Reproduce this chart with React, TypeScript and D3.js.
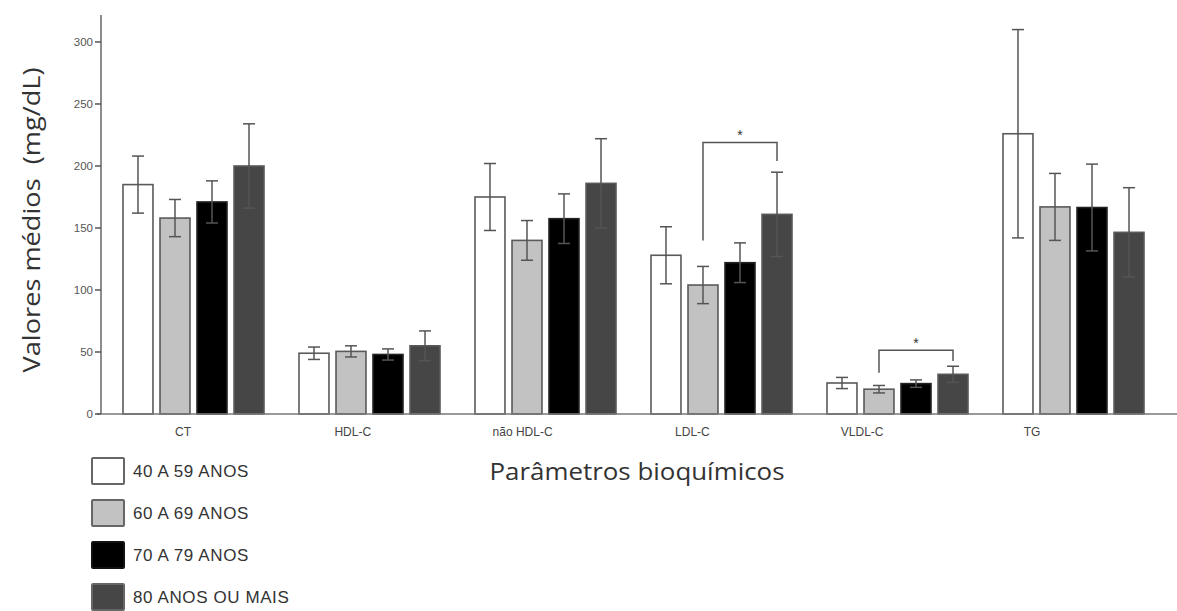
import * as d3 from 'd3';
import React from 'react';

// categorias e series
const categories = ['CT', 'HDL-C', 'não HDL-C', 'LDL-C', 'VLDL-C', 'TG'];
const seriesNames = ['40 A 59 ANOS', '60 A 69 ANOS', '70 A 79 ANOS', '80 ANOS OU MAIS'];
const seriesColors = ['#ffffff', '#c2c2c2', '#000000', '#464646'];

const means40 = [185, 49, 175, 128, 25, 226];
const means60 = [158, 50.5, 140, 104, 20, 167];
const means70 = [171, 48, 157.5, 122, 24.5, 166.5];
const means80 = [200, 55, 186, 161, 32, 146.5];

const err40 = [23, 5, 27, 23, 4.5, 84];
const err60 = [15, 4.5, 16, 15, 3, 27];
const err70 = [17, 4.5, 20, 16, 3, 35];
const err80 = [34, 12, 36, 34, 6.5, 36];

const yTicks = [0, 50, 100, 150, 200, 250, 300];

// brackets de significancia (valores em mg/dL)
const sigCategory = ['LDL-C', 'VLDL-C'];
const sigTop = [219, 51.4];
const sigLeftEnd = [140, 33.3];
const sigRightEnd = [204, 42.7];

const means = [means40, means60, means70, means80];
const errs = [err40, err60, err70, err80];

function App() {
    const width = 1177, height = 611;
    const axisX = 101, baseY = 414;

    const y = d3.scaleLinear().domain([0, 322]).range([baseY, 14.7]);
    const x0 = d3.scaleBand().domain(categories).range([105, 1161]).padding(0);
    const x1 = d3.scaleBand().domain(seriesNames).range([18, 159]).paddingInner(0.19);
    const xLabel = d3.scalePoint().domain(categories).range([183, 1032]);

    const barCenter = (c, s) => x0(c) + x1(s) + x1.bandwidth() / 2;

    const bars = [];
    categories.forEach((c, ci) => {
        seriesNames.forEach((s, si) => {
            bars.push({ c, s, si, v: means[si][ci], e: errs[si][ci] });
        });
    });

    const lineColor = '#555';
    const sans = 'Liberation Sans, Arial, sans-serif';

    return (
        <svg width={width} height={height} style={{ position: 'absolute', left: 0, top: 0, background: '#fff' }}>
            {/* barras */}
            {bars.map((d, i) => (
                <rect key={'b' + i}
                    x={x0(d.c) + x1(d.s)}
                    y={y(d.v)}
                    width={x1.bandwidth()}
                    height={baseY - y(d.v)}
                    fill={seriesColors[d.si]}
                    stroke={d.si === 2 ? '#222' : '#5a5a5a'}
                    strokeWidth={1.6} />
            ))}
            {/* barras de erro */}
            {bars.map((d, i) => {
                const cx = barCenter(d.c, d.s);
                const top = y(d.v + d.e), bot = y(d.v - d.e);
                return (
                    <g key={'e' + i} stroke={lineColor} strokeWidth={1.5}>
                        <line x1={cx} x2={cx} y1={top} y2={bot} />
                        <line x1={cx - 6} x2={cx + 6} y1={top} y2={top} />
                        <line x1={cx - 6} x2={cx + 6} y1={bot} y2={bot} />
                    </g>
                );
            })}
            {/* brackets */}
            {sigCategory.map((c, i) => {
                const xl = barCenter(c, seriesNames[1]);
                const xr = barCenter(c, seriesNames[3]);
                const yt = y(sigTop[i]);
                return (
                    <g key={'s' + i}>
                        <path d={`M${xl},${y(sigLeftEnd[i])}V${yt}H${xr}V${y(sigRightEnd[i])}`}
                            fill="none" stroke={lineColor} strokeWidth={1.5} />
                        <text x={(xl + xr) / 2} y={yt - 2} textAnchor="middle"
                            fontFamily={sans} fontSize={14} fill="#333">*</text>
                    </g>
                );
            })}
            {/* eixos */}
            <line x1={axisX} x2={axisX} y1={15} y2={baseY} stroke="#666" strokeWidth={1.5} />
            <line x1={axisX - 4} x2={width} y1={baseY} y2={baseY} stroke="#777" strokeWidth={1.5} />
            {yTicks.map(t => (
                <g key={'t' + t}>
                    <line x1={axisX - 6} x2={axisX} y1={y(t)} y2={y(t)} stroke="#555" strokeWidth={1.5} />
                    <text x={axisX - 8} y={y(t)} dy="0.35em" textAnchor="end"
                        fontFamily={sans} fontSize={11.5} fill="#555">{t}</text>
                </g>
            ))}
            {categories.map(c => (
                <text key={'l' + c} x={xLabel(c)} y={432} dy="0.35em" textAnchor="middle"
                    fontFamily={sans} fontSize={12} fill="#444">{c}</text>
            ))}
            {/* titulos */}
            <text transform="translate(32,220) rotate(-90)" textAnchor="middle" dy="0.35em"
                fontFamily="Open Sans, sans-serif" fontSize={23} fill="#333"
                textLength={305} lengthAdjust="spacingAndGlyphs">{'Valores médios\u00a0\u00a0(mg/dL)'}</text>
            <text x={637} y={472} textAnchor="middle" dy="0.35em"
                fontFamily="Open Sans, sans-serif" fontSize={23} fill="#333"
                textLength={295} lengthAdjust="spacingAndGlyphs">Parâmetros bioquímicos</text>
            {/* legenda */}
            {seriesNames.map((s, i) => (
                <g key={'g' + i} transform={`translate(92,${458 + i * 42})`}>
                    <rect x={0} y={0} width={32} height={26} fill={seriesColors[i]}
                        stroke={i === 2 ? '#111' : '#666'} strokeWidth={2} rx={1} />
                    <text x={41} y={13} dy="0.35em" fontFamily={sans}
                        fontSize={17} letterSpacing={0.6} fill="#333">{s}</text>
                </g>
            ))}
        </svg>
    );
}

export default App;
